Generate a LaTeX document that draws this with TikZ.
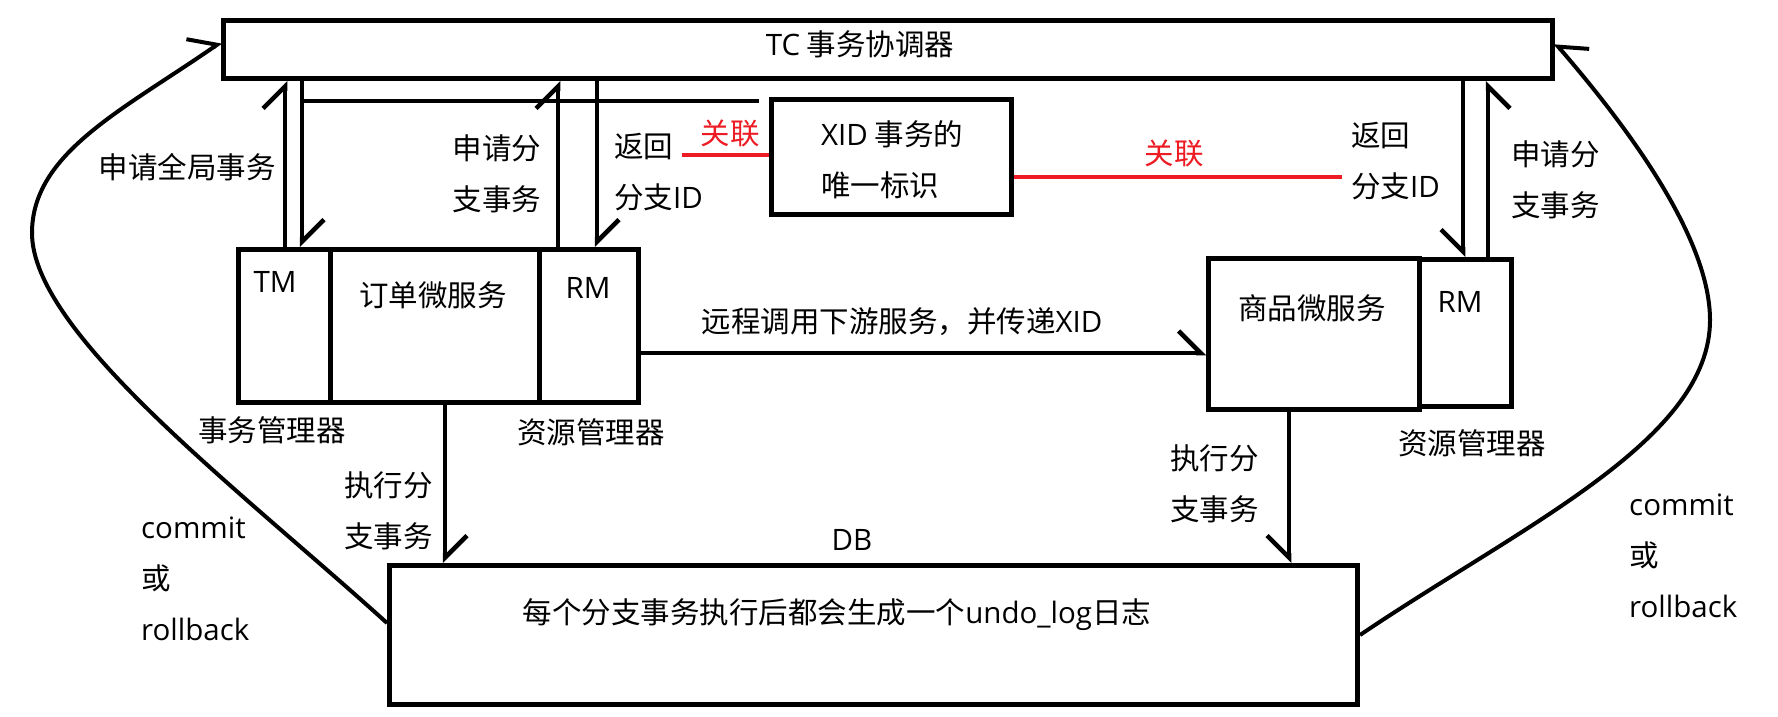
\documentclass[tikz,border=0pt]{standalone}
\usepackage{fontspec}
\setmainfont{Noto Sans CJK SC}
\newfontfamily\lat{Open Sans}
\usetikzlibrary{arrows.meta}
\definecolor{pred}{RGB}{237,28,36}
\begin{document}
\begin{tikzpicture}[x=1pt,y=1pt,
  box/.style={draw, line width=5pt, inner sep=0pt, anchor=north west},
  txt/.style={font=\fontsize{29.5}{51}\selectfont, inner sep=0pt},
  ltxt/.style={txt, align=left, anchor=west},
  conn/.style={line width=4.5pt},
  curv/.style={line width=4pt},
  hp/.style={-{Straight Barb[harpoon, length=22pt, width=44pt]}},
  hps/.style={-{Straight Barb[harpoon, swap, length=22pt, width=44pt]}},
  rl/.style={draw=pred, line width=4.5pt}]
\useasboundingbox (0,0) rectangle (1778,-716);
% boxes
\node[box, minimum width=1329, minimum height=58] (tc) at (221,-18) {};
\node[box, minimum width=240, minimum height=115] (xid) at (769,-97) {};
\node[box, minimum width=92, minimum height=153] (tm) at (236,-247) {};
\node[box, minimum width=209, minimum height=153] (order) at (328,-247) {};
\node[box, minimum width=99, minimum height=153] (rm) at (537,-247) {};
\node[box, minimum width=211, minimum height=151] (sp) at (1206,-256) {};
\node[box, minimum width=92, minimum height=147] (rm2) at (1417,-257) {};
\node[box, minimum width=968, minimum height=139] (db) at (387,-563) {};
% helper coordinates
\coordinate (a1) at (285,0);
\coordinate (a2) at (302,0);
\coordinate (a3) at (558,0);
\coordinate (a4) at (597,0);
\coordinate (a5) at (1463,0);
\coordinate (a6) at (1488,0);
\coordinate (a7) at (0,-353);
\coordinate (a8) at (445,0);
\coordinate (a9) at (1289,0);
\coordinate (h1) at (302,-101);
\coordinate (h2) at (759,-101);
\coordinate (r1) at (682,-155);
\coordinate (r2) at (1342,-177);
\coordinate (c0) at (0,-623);
\coordinate (cl) at (32,-233);
\coordinate (c9) at (0,-42);
\coordinate (d0) at (0,-635);
\coordinate (cr) at (1710,-320);
\coordinate (d9) at (0,-43);
% connectors
\draw[conn,hp] (tm.north -| a1) -- (tc.south -| a1);
\draw[conn,hp] (tc.south -| a2) -- (tm.north -| a2);
\draw[conn] (h1) -- (h2);
\draw[conn,hp] (rm.north -| a3) -- (tc.south -| a3);
\draw[conn,hp] (tc.south -| a4) -- (rm.north -| a4);
\draw[rl] (r1) -- (xid.west |- r1);
\draw[rl] (xid.east |- r2) -- (r2);
\draw[conn,hps] (tc.south -| a5) -- (rm2.north -| a5);
\draw[conn,hps] (rm2.north -| a6) -- (tc.south -| a6);
\draw[conn,hp] (rm.east |- a7) -- (sp.west |- a7);
\draw[conn,hp] (order.south -| a8) -- (db.north -| a8);
\draw[conn,hps] (sp.south -| a9) -- (db.north -| a9);
\draw[curv,hp] (db.west |- c0) .. controls (239,-489) and (32,-333) .. (cl)
  .. controls (32,-153) and (123,-110) .. (tc.west |- c9);
\draw[curv,hps] (db.east |- d0) .. controls (1523,-525) and (1710,-440) .. (cr)
  .. controls (1710,-240) and (1632,-132) .. (tc.east |- d9);
% texts
\node[txt] (tct) at (860,-44) {{\lat TC} 事务协调器};
\node[ltxt] (xidt) at (821,-160) {{\lat XID} 事务的\\唯一标识};
\node[txt] (l1) at (187,-167) {申请全局事务};
\node[txt, align=center] (l2) at (497,-174) {申请分\\支事务};
\node[ltxt] (l3) at (614,-172) {返回\\分支{\lat ID}};
\node[txt, text=pred] (l4) at (730,-133) {关联};
\node[txt, text=pred] (l5) at (1174,-153) {关联};
\node[ltxt] (l6) at (1351,-161) {返回\\分支{\lat ID}};
\node[ltxt] (l7) at (1511,-180) {申请分\\支事务};
\node[txt] (l8) at (275,-282) {{\lat TM}};
\node[txt] (l9) at (433,-295) {订单微服务};
\node[txt] (l10) at (588,-288) {{\lat RM}};
\node[txt] (l11) at (902,-322) {远程调用下游服务，并传递{\lat XID}};
\node[txt] (l12) at (1312,-308) {商品微服务};
\node[txt] (l13) at (1460,-302) {{\lat RM}};
\node[txt] (l14) at (272,-430) {事务管理器};
\node[txt] (l15) at (591,-432) {资源管理器};
\node[ltxt] (l16) at (344,-511) {执行分\\支事务};
\node[ltxt] (l17) at (1170,-484) {执行分\\支事务};
\node[txt] (l18) at (1472,-443) {资源管理器};
\node[txt] (l19) at (852,-540) {{\lat DB}};
\node[txt] (l20) at (837,-615) {每个分支事务执行后都会生成一个{\lat undo\_log}日志};
\node[ltxt] (l21) at (141,-579) {{\lat commit}\\或\\{\lat rollback}};
\node[ltxt] (l22) at (1629,-556) {{\lat commit}\\或\\{\lat rollback}};
\end{tikzpicture}
\end{document}
